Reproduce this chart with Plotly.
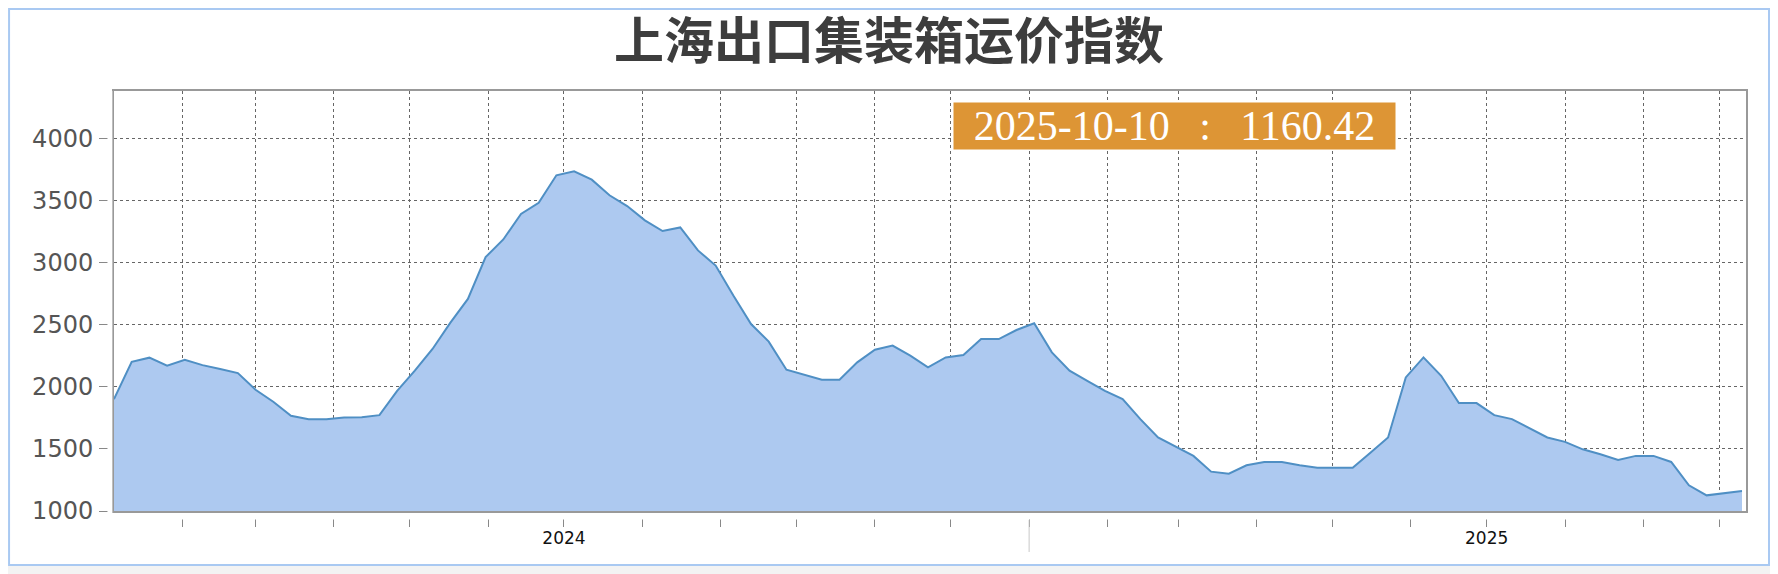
import plotly.graph_objects as go

# 上海出口集装箱运价指数 (SCFI) weekly values
dates = [
    "2024-01-05", "2024-01-12", "2024-01-19", "2024-01-26", "2024-02-02", "2024-02-09",
    "2024-02-16", "2024-02-23", "2024-03-01", "2024-03-08", "2024-03-15", "2024-03-22",
    "2024-03-29", "2024-04-05", "2024-04-12", "2024-04-19", "2024-04-26", "2024-05-03",
    "2024-05-10", "2024-05-17", "2024-05-24", "2024-05-31", "2024-06-07", "2024-06-14",
    "2024-06-21", "2024-06-28", "2024-07-05", "2024-07-12", "2024-07-19", "2024-07-26",
    "2024-08-02", "2024-08-09", "2024-08-16", "2024-08-23", "2024-08-30", "2024-09-06",
    "2024-09-13", "2024-09-20", "2024-09-27", "2024-10-04", "2024-10-11", "2024-10-18",
    "2024-10-25", "2024-11-01", "2024-11-08", "2024-11-15", "2024-11-22", "2024-11-29",
    "2024-12-06", "2024-12-13", "2024-12-20", "2024-12-27", "2025-01-03", "2025-01-10",
    "2025-01-17", "2025-01-24", "2025-01-31", "2025-02-07", "2025-02-14", "2025-02-21",
    "2025-02-28", "2025-03-07", "2025-03-14", "2025-03-21", "2025-03-28", "2025-04-04",
    "2025-04-11", "2025-04-18", "2025-04-25", "2025-05-02", "2025-05-09", "2025-05-16",
    "2025-05-23", "2025-05-30", "2025-06-06", "2025-06-13", "2025-06-20", "2025-06-27",
    "2025-07-04", "2025-07-11", "2025-07-18", "2025-07-25", "2025-08-01", "2025-08-08",
    "2025-08-15", "2025-08-22", "2025-08-29", "2025-09-05", "2025-09-12", "2025-09-19",
    "2025-09-26", "2025-10-03", "2025-10-10",
]
scfi = [
    1901, 2202, 2235, 2170, 2218, 2175,
    2143, 2111, 1976, 1880, 1767, 1740,
    1740, 1753, 1756, 1772, 1968, 2130,
    2305, 2515, 2708, 3045, 3187, 3392,
    3483, 3704, 3736, 3669, 3543, 3456,
    3341, 3255, 3284, 3099, 2977, 2735,
    2506, 2364, 2138, 2100, 2057, 2057,
    2197, 2299, 2332, 2251, 2157, 2237,
    2256, 2385, 2385, 2458, 2512, 2278,
    2130, 2049, 1968, 1901, 1740, 1592,
    1519, 1444, 1317, 1301, 1368, 1395,
    1395, 1368, 1349, 1349, 1349, 1470,
    1592, 2076, 2237, 2089, 1869, 1869,
    1772, 1740, 1664, 1592, 1557, 1497,
    1457, 1411, 1444, 1444, 1395, 1207,
    1126, 1142, 1160.42,
]

# monthly ticks, year label in the middle of each year
tick_dates = [
    "2024-02-01", "2024-03-01", "2024-04-01", "2024-05-01", "2024-06-01", "2024-07-01",
    "2024-08-01", "2024-09-01", "2024-10-01", "2024-11-01", "2024-12-01", "2025-01-01",
    "2025-02-01", "2025-03-01", "2025-04-01", "2025-05-01", "2025-06-01", "2025-07-01",
    "2025-08-01", "2025-09-01", "2025-10-01",
]
tick_labels = ["2024" if d == "2024-07-01" else "2025" if d == "2025-07-01" else "" for d in tick_dates]
year_break = "2025-01-01"

fig = go.Figure()
fig.add_trace(go.Scatter(
    x=dates, y=scfi, mode="lines",
    line=dict(color="#4f8fc4", width=2),
    fill="tozeroy", fillcolor="#adc9f0",
    hoverinfo="skip", showlegend=False,
))

# 外枠
fig.add_shape(type="rect", xref="paper", yref="paper",
              x0=-0.0643, x1=1.0141, y0=-0.1286, y1=1.1952,
              fillcolor="white", line=dict(color="#a9c9f2", width=2), layer="below")
# 目盛りと軸の間の隙間
fig.add_shape(type="rect", xref="paper", yref="paper",
              x0=-0.01, x1=1.0, y0=-0.0205, y1=-0.0048,
              fillcolor="white", line_width=0, layer="above")
fig.add_shape(type="rect", xref="paper", yref="paper",
              x0=-0.0040, x1=-0.0010, y0=-0.01, y1=1.0,
              fillcolor="white", line_width=0, layer="above")
# 年の区切り
fig.add_shape(type="line", xref="x", yref="paper",
              x0=year_break, x1=year_break, y0=-0.0214, y1=-0.0976,
              line=dict(color="#c8c8c8", width=1))

# 最新値ラベル
gap = "&nbsp;&nbsp;\u2009"
fig.add_annotation(
    xref="paper", yref="paper", x=0.5143, y=0.9745,
    xanchor="left", yanchor="top",
    text=f"{dates[-1]}{gap}:{gap}{scfi[-1]:.2f}", showarrow=False,
    font=dict(family="Liberation Serif", size=42, color="white"),
    bgcolor="#dd9535", width=437, height=42, borderpad=2, align="center",
)

fig.update_layout(
    width=1770, height=566, autosize=False,
    margin=dict(l=106, r=32, t=83, b=63),
    paper_bgcolor="#f3f3f3", plot_bgcolor="white",
    title=dict(text="上海出口集装箱运价指数", xref="container", x=0.4977, xanchor="center",
               yref="container", y=0.941, yanchor="middle",
               font=dict(family="DejaVu Sans, Noto Sans CJK SC", size=50, color="#3d3d3d",
                         weight="bold")),
    xaxis=dict(
        type="date", range=["2024-01-05", "2025-10-11 14:00"],
        tickmode="array", tickvals=tick_dates, ticktext=tick_labels,
        ticks="outside", ticklen=14, tickcolor="#888888", tickwidth=1,
        ticklabelstandoff=-3,
        tickfont=dict(family="DejaVu Sans", size=17, color="#111111"),
        showgrid=True, gridcolor="#666666", griddash="3px,3px", gridwidth=1,
        showline=True, linecolor="#999999", linewidth=2, mirror=True,
        zeroline=False,
    ),
    yaxis=dict(
        range=[1000, 4383], tick0=1000, dtick=500,
        ticks="outside", ticklen=13, tickcolor="#888888", tickwidth=1,
        ticklabelstandoff=1,
        tickfont=dict(family="DejaVu Sans", size=24, color="#555555"),
        showgrid=True, gridcolor="#666666", griddash="3px,3px", gridwidth=1,
        showline=True, linecolor="#999999", linewidth=2, mirror=True,
        zeroline=False,
    ),
)

fig.write_html("out.html")
